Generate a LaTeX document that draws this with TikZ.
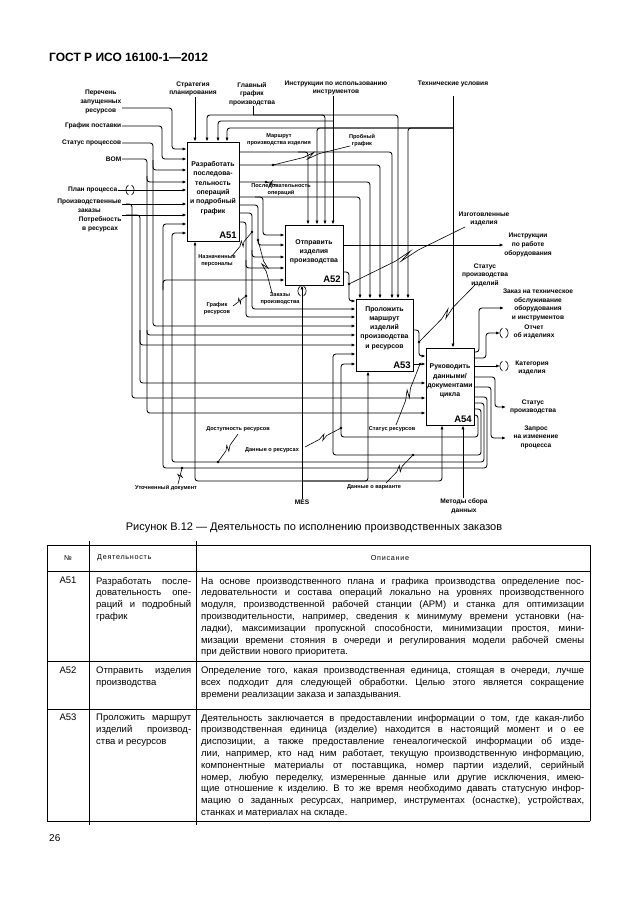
\documentclass[tikz,border=0pt]{standalone}
\usepackage{fontspec}
\setmainfont{Liberation Sans}
\newfontfamily\spc[LetterSpace=10]{Liberation Sans}
\usetikzlibrary{arrows.meta,calc}
\frenchspacing
\tikzset{
 box/.style={draw, line width=0.9pt, inner sep=0pt},
 ln/.style={line width=0.85pt, rounded corners=2.8pt},
 arr/.style={-{Latex[length=4pt,width=3.2pt]}},
 lbl/.style={font=\fontsize{6.6}{8.6}\selectfont\bfseries, align=center, inner sep=0.5pt},
 slbl/.style={font=\fontsize{5.6}{7}\selectfont\bfseries, align=center, inner sep=0.5pt},
 btxt/.style={font=\fontsize{6.9}{9.3}\selectfont\bfseries, align=center, inner sep=0pt},
 bid/.style={font=\fontsize{9.5}{10}\selectfont\bfseries, inner sep=2.5pt},
 sq/.style={line width=0.6pt},
 tb/.style={line width=0.7pt},
 tt/.style={font=\fontsize{9.5}{11.8}\selectfont, inner sep=0pt, align=left},
 hd/.style={font=\fontsize{7.2}{8}\spc, inner sep=0pt},
}
\newcommand\sqg[2]{%
 \draw[sq] (#1) -- ($(#1)!0.40!(#2)$) -- ($($(#1)!0.56!(#2)$)!2.5pt!90:(#2)$) -- ($($(#1)!0.46!(#2)$)!2.5pt!-90:(#2)$) -- ($(#1)!0.60!(#2)$) -- (#2);
 \fill (#2) circle (1.4pt);}
\newcommand\tun[2]{%
 \draw[sq] (#1-1.5,#2-5) .. controls (#1-5,#2-3) and (#1-5,#2+3) .. (#1-1.5,#2+5);
 \draw[sq] (#1+1.5,#2-5) .. controls (#1+5,#2-3) and (#1+5,#2+3) .. (#1+1.5,#2+5);}
\begin{document}
\begin{tikzpicture}[x=1pt,y=-1pt]
\useasboundingbox (0,0) rectangle (630,913);
\fill[white] (0,0) rectangle (630,913);

\node[anchor=west,font=\fontsize{12}{13}\selectfont\bfseries,inner sep=0] (hdr) at (49,57) {ГОСТ Р ИСО 16100-1—2012};

% ---------------- boxes
\node[box,minimum width=52pt,minimum height=99pt] (a51) at (213,191.5) {};
\node[box,minimum width=58pt,minimum height=60pt] (a52) at (314,255) {};
\node[box,minimum width=57pt,minimum height=72pt] (a53) at (384.5,335) {};
\node[box,minimum width=48pt,minimum height=77pt] (a54) at (450,386.5) {};
\node[btxt] (t51) at (213,188) {Разработать\\последова-\\тельность\\операций\\и подробный\\график};
\node[bid,anchor=south east] (n51) at (a51.south east) {A51};
\node[btxt] (t52) at (314,252) {Отправить\\изделия\\производства};
\node[bid,anchor=south east] (n52) at (a52.south east) {A52};
\node[btxt] (t53) at (384.5,328) {Проложить\\маршрут\\изделий\\производства\\и ресурсов};
\node[bid,anchor=south east] (n53) at (a53.south east) {A53};
\node[btxt] (t54) at (450,381) {Руководить\\данными/\\документами\\цикла};
\node[bid,anchor=south east] (n54) at (a54.south east) {A54};

% ---------------- controls (top)
\node[lbl] (strat) at (193,89) {Стратегия\\планирования};
\draw[ln,arr] (strat.south -| 195,0) -- (a51.north -| 195,0);
\node[lbl] (glav) at (252,94) {Главный\\график\\производства};
\coordinate (gj) at (253,115);
\draw[ln] (glav.south -| gj) -- (gj);
\draw[ln,arr] (gj) -| (a51.north -| 207,0);
\draw[ln,arr] (gj) -| (a52.north -| 325,0);
\draw[ln,arr] (gj) -| (a53.north -| 398,0);
\node[lbl] (instr) at (336,88) {Инструкции по использованию\\инструментов};
\draw[ln,arr] (instr.south -| 333,0) -- (a52.north -| 333,0);
\draw[ln,arr] (333,121) -| (a51.north -| 218,0);
\node[lbl] (tech) at (453,84) {Технические условия};
\draw[ln,arr] ([yshift=-8pt]tech.south) -- (a54.north -| tech.south);
\draw[ln,arr] (453,128) -| (a51.north -| 227,0);
\draw[ln,arr] (453,128) -| (a52.north -| 317,0);
\draw[ln,arr] (453,128) -| (a53.north -| 408,0);

% ---------------- inputs (left)
\node[lbl,anchor=east] (perech) at (122,102) {Перечень\\запущенных\\ресурсов};
\draw[ln,arr] (perech.east |- 0,108) -| (172,149) -- (a51.west |- 0,149);
\node[lbl,anchor=east] (grpost) at (122,126) {График поставки};
\draw[ln,arr] (grpost.east) -| (162,159) -- (a51.west |- 0,159);
\node[lbl,anchor=east] (statp) at (122,143) {Статус процессов};
\draw[ln,arr] (statp.east) -| (153,170) -- (a51.west |- 0,170);
\draw[ln,arr] (153,160) |- (a53.west |- 0,326);
\node[lbl,anchor=east] (bom) at (122,159) {BOM};
\draw[ln,arr] (bom.east) -| (147,182) -- (a51.west |- 0,182);
\draw[ln,arr] (147,176) |- (a53.west |- 0,335);
\draw[ln,arr] (147,330) |- (a54.west |- 0,413);
\node[lbl,anchor=east] (plan) at (118,190) {План процесса};
\draw[ln,arr] (plan.east) -- (a51.west |- 0,190);
\tun{130}{190}
\node[lbl,anchor=east] (proizv) at (122,206) {Производственные\\заказы};
\draw[ln,arr] (proizv.east |- 0,204) -- (a51.west |- 0,204);
\draw[ln,arr] (126,204) -| (132,214) |- (a54.west |- 0,398);
\node[lbl,anchor=east] (potr) at (122,224) {Потребность\\в ресурсах};
\draw[ln,arr] (potr.east |- 0,215) -- (a51.west |- 0,215);
\draw[ln,arr] (126,215) -| (140,225) |- (a53.west |- 0,345);
\draw[ln,arr] (140,330) |- (a54.west |- 0,383);

% ---------------- A51 outputs
\draw[ln,arr] (a51.east |- 0,152) -| (a53.north -| 392,0);
\draw[ln,arr] (298,152) -| (a52.north -| 308,0);
\draw[ln,arr] (a51.east |- 0,165) -| (a53.north -| 380,0);
\draw[ln,arr] (a51.east |- 0,182) -| (a53.north -| 370,0);
\draw[ln,arr] (a51.east |- 0,197) -| (a53.north -| 360,0);
\draw[ln,arr] (255,197) -| (263,235) -- (a52.west |- 0,235);
\draw[ln,arr] (a51.east |- 0,205) -| (258,245) -- (a52.west |- 0,245);
\draw[ln,arr] (a51.east |- 0,213) -| (252,309) -- (a53.west |- 0,309);
\draw[ln,arr] (252,250) |- (a52.west |- 0,257);
\draw[ln,arr] (a51.east |- 0,222) -| (246,317) -- (a53.west |- 0,317);
\draw[ln,arr] (246,260) |- (a52.west |- 0,268);
\node[slbl] (marsh) at (279,140) {Маршрут\\производства изделия};
\node[slbl] (prob) at (362,140) {Пробный\\график};
\sqg{350,146}{273,165}
\node[slbl] (posl) at (281,189.5) {Последовательность\\операций};
\sqg{276,185}{266,182}
\node[slbl] (nazn) at (217,261) {Назначенные\\персоналы};
\sqg{232,256}{252,232}
\node[slbl] (zakpr) at (280,299) {Заказы\\производства};
\sqg{272,293}{258,240}
\node[slbl] (grres) at (217,309) {График\\ресурсов};
\sqg{233,306}{246,296}

% ---------------- A52 outputs
\node[lbl] (instrr) at (528,245) {Инструкции\\по работе\\оборудования};
\draw[ln,arr] (a52.east |- 0,245) -- (instrr.west |- 0,245);
\draw[ln,arr] (a52.east |- 0,272) -| (349,301) -- (a53.west |- 0,301);
\node[lbl] (izg) at (484,219) {Изготовленные\\изделия};
\sqg{465,227}{349,284}

% ---------------- A53 outputs
\draw[ln,arr] (a53.east |- 0,330) -| (419,356) -- (a54.west |- 0,356);
\draw[ln,arr] (a53.east |- 0,364) -- (a54.west |- 0,364);
\node[lbl] (statpi) at (485,275) {Статус\\производства\\изделий};
\sqg{476,284}{419,342}
\node[slbl] (statres) at (392,429) {Статус ресурсов};
\sqg{396,425}{420,364}

% ---------------- A54 outputs
\node[lbl] (zakto) at (538,305) {Заказ на техническое\\обслуживание\\оборудования\\и инструментов};
\coordinate (ezak) at (504,308);
\draw[ln,arr] (a54.east |- 0,352) -| (479,308) -- (ezak);
\node[lbl] (otch) at (534,332) {Отчет\\об изделиях};
\coordinate (eotch) at (500,333);
\draw[ln,arr] (a54.east |- 0,358) -| (486,333) -- (eotch);
\tun{504}{333}
\node[lbl] (kateg) at (532,368) {Категория\\изделия};
\coordinate (ekat) at (500,366);
\draw[ln,arr] (a54.east |- 0,366) -- (ekat);
\tun{504}{366}
\node[lbl] (statusp) at (533,407) {Статус\\производства};
\coordinate (estat) at (506,407);
\draw[ln,arr] (a54.east |- 0,377) -| (495,407) -- (estat);
\node[lbl] (zapros) at (536,437) {Запрос\\на изменение\\процесса};
\coordinate (ezap) at (506,438);
\draw[ln,arr] (a54.east |- 0,387) -| (491,438) -- (ezap);

% ---------------- feedback loops
\draw[ln,arr] (a54.east |- 0,397) -| (487,468) -| (163,224) -- (a51.west |- 0,224);
\draw[ln,arr] (163,290) |- (a52.west |- 0,280);
\draw[ln,arr] (a54.east |- 0,403) -| (484,462) -| (172,233) -- (a51.west |- 0,233);
\draw[ln,arr] (a54.east |- 0,409) -| (481,455) -| (333,354) -- (a53.west |- 0,354);
\draw[ln,arr] (a54.east |- 0,415) -| (478,437) -| (341,364) -- (a53.west |- 0,364);
\node[slbl] (utoch) at (166,488) {Уточненный документ};
\sqg{178,484}{182,468}
\node[slbl] (dostup) at (238,429) {Доступность ресурсов};
\sqg{238,434}{218,462}
\node[slbl] (dres) at (272,450) {Данные о ресурсах};
\sqg{305,447}{341,428}
\node[slbl] (dvar) at (374,487) {Данные о варианте};
\sqg{386,483}{413,455}

% ---------------- mechanisms
\node[lbl] (mes) at (302,502) {MES};
\coordinate (mj) at (302,481);
\draw[ln,arr] (mes.north) -- (mes.north |- a52.south);
\draw[ln,arr] (mj) -| (a51.south -| 195,0);
\draw[ln,arr] (mj) -| (a53.south -| 368,0);
\draw[ln,arr] (mj) -| (a54.south -| 442,0);
\tun{302}{291}
\node[lbl] (metod) at (464,506) {Методы сбора\\данных};
\draw[ln,arr] (metod.north -| 463,0) -- (a54.south -| 463,0);

% ---------------- caption
\node[font=\fontsize{11}{12}\selectfont, inner sep=0] (cap) at (314,528) {Рисунок В.12 — Деятельность по исполнению производственных заказов};

% ---------------- table
\draw[tb] (47,545) -- (590,545) (47,571) -- (590,571) (47,661) -- (590,661) (47,709) -- (590,709) (47,821) -- (590,821);
\draw[tb] (47,545) -- (47,821) (590,545) -- (590,821) (89,541) -- (89,825) (196,541) -- (196,825);
\node[hd] (h1) at (68,558) {№};
\node[hd,anchor=west] (h2) at (97,558) {Деятельность};
\node[hd] (h3) at (390,558) {Описание};

\node[tt,anchor=north] (r1a) at (68,577) {A51};
\node[tt,anchor=north west] (r1b) at (96,577) {\makebox[95pt][s]{Разработать после-}\\\makebox[95pt][s]{довательность опе-}\\\makebox[95pt][s]{раций и подробный}\\график};
\node[tt,anchor=north west] (r1c) at (201,577) {%
\makebox[383pt][s]{На основе производственного плана и графика производства определение пос-}\\
\makebox[383pt][s]{ледовательности и состава операций локально на уровнях производственного}\\
\makebox[383pt][s]{модуля, производственной рабочей станции (АРМ) и станка для оптимизации}\\
\makebox[383pt][s]{производительности, например, сведения к минимуму времени установки (на-}\\
\makebox[383pt][s]{ладки), максимизации пропускной способности, минимизации простоя, мини-}\\
\makebox[383pt][s]{мизации времени стояния в очереди и регулирования модели рабочей смены}\\
при действии нового приоритета.};

\node[tt,anchor=north] (r2a) at (68,667) {A52};
\node[tt,anchor=north west] (r2b) at (96,667) {\makebox[95pt][s]{Отправить изделия}\\производства};
\node[tt,anchor=north west] (r2c) at (201,667) {%
\makebox[383pt][s]{Определение того, какая производственная единица, стоящая в очереди, лучше}\\
\makebox[383pt][s]{всех подходит для следующей обработки. Целью этого является сокращение}\\
времени реализации заказа и запаздывания.};

\node[tt,anchor=north] (r3a) at (68,714) {A53};
\node[tt,anchor=north west] (r3b) at (96,714) {\makebox[95pt][s]{Проложить маршрут}\\\makebox[95pt][s]{изделий производ-}\\ства и ресурсов};
\node[tt,anchor=north west] (r3c) at (201,714) {%
\makebox[383pt][s]{Деятельность заключается в предоставлении информации о том, где какая-либо}\\
\makebox[383pt][s]{производственная единица (изделие) находится в настоящий момент и о ее}\\
\makebox[383pt][s]{диспозиции, а также предоставление генеалогической информации об изде-}\\
\makebox[383pt][s]{лии, например, кто над ним работает, текущую производственную информацию,}\\
\makebox[383pt][s]{компонентные материалы от поставщика, номер партии изделий, серийный}\\
\makebox[383pt][s]{номер, любую переделку, измеренные данные или другие исключения, имею-}\\
\makebox[383pt][s]{щие отношение к изделию. В то же время необходимо давать статусную инфор-}\\
\makebox[383pt][s]{мацию о заданных ресурсах, например, инструментах (оснастке), устройствах,}\\
станках и материалах на складе.};

\node[font=\fontsize{10}{12}\selectfont, anchor=west, inner sep=0] (pg) at (49,838) {26};
\end{tikzpicture}
\end{document}
